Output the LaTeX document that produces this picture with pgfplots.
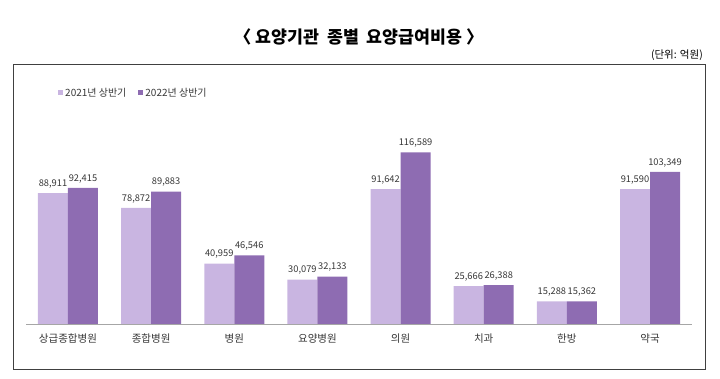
\documentclass[border=0pt]{standalone}
\usepackage{fontspec}
\setmainfont{Noto Sans CJK KR}
\usepackage{pgfplots}
\pgfplotsset{compat=1.18}
\definecolor{lightp}{RGB}{201,181,225}
\definecolor{darkp}{RGB}{142,108,178}
\definecolor{txt}{RGB}{55,55,55}
\begin{document}
\begin{tikzpicture}[x=1pt,y=1pt]
\path[use as bounding box] (0,0) rectangle (720,379);
\node[font=\bfseries\fontsize{17.3}{20}\selectfont] at (359,342) {〈\ 요양기관\ \ 종별\ \ 요양급여비용\ 〉};
\node[anchor=east,font=\fontsize{10.5}{12}\selectfont,inner sep=0pt] at (703,324) {(단위: 억원)};
\draw[black!75,line width=0.9pt] (13,315) rectangle (705,10);
\begin{axis}[
  at={(26.4pt,55pt)}, anchor=south west,
  scale only axis, width=665.2pt, height=213.4pt,
  xmin=-0.5, xmax=7.5, ymin=0, ymax=145000,
  axis y line=none, axis x line*=bottom,
  x axis line style={draw=black!35, line width=0.8pt, -},
  xtick=data, major tick length=0pt,
  xticklabels={상급종합병원,종합병원,병원,요양병원,의원,치과,한방,약국},
  xticklabel style={font=\fontsize{10.5}{12}\selectfont, text=txt, yshift=-6pt},
  ybar=0pt, bar width=30pt,
  nodes near coords, point meta=explicit symbolic,
  every node near coord/.append style={font=\fontsize{9.3}{11}\selectfont, text=txt, yshift=1.5pt},
  legend columns=2,
  legend style={at={(0.043,1.0825)}, anchor=west, draw=none, fill=none,
    font=\fontsize{10}{12}\selectfont, text=txt,
    /tikz/every even column/.append style={column sep=10pt}},
  legend image code/.code={\fill[#1] (0pt,-2.5pt) rectangle (5pt,2.5pt);},
  clip=false,
]
\addplot[fill=lightp, draw=none] coordinates {
(0,88911)[88,911] (1,78872)[78,872] (2,40959)[40,959] (3,30079)[30,079]
(4,91642)[91,642] (5,25666)[25,666] (6,15288)[15,288] (7,91590)[91,590]};
\addplot[fill=darkp, draw=none] coordinates {
(0,92415)[92,415] (1,89883)[89,883] (2,46546)[46,546] (3,32133)[32,133]
(4,116589)[116,589] (5,26388)[26,388] (6,15362)[15,362] (7,103349)[103,349]};
\legend{2021년 상반기, 2022년 상반기}
\end{axis}
\end{tikzpicture}
\end{document}
